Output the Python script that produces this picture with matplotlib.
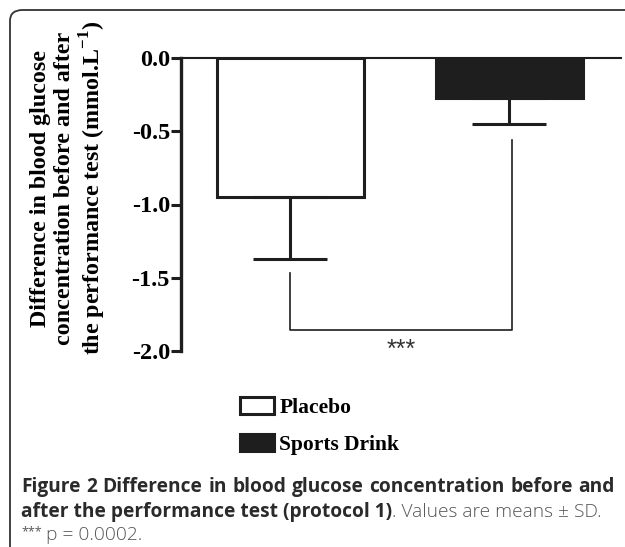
import matplotlib.pyplot as plt
from matplotlib.patches import FancyBboxPatch

# data
groups = ["Placebo", "Sports Drink"]
means = [-0.95, -0.27]
sds = [0.42, 0.18]
bar_colors = ["white", "#1e1e1e"]
yticks = [0.0, -0.5, -1.0, -1.5, -2.0]
sig_left = [0.0, -1.47]   # x, top of left bracket leg
sig_right = [1.01, -0.56]
sig_y = -1.86
sig_text = "***"

plt.rcParams["mathtext.fontset"] = "custom"
plt.rcParams["mathtext.bf"] = "Liberation Serif:bold"
plt.rcParams["mathtext.rm"] = "Liberation Serif"

W, H = 625, 547
fig = plt.figure(figsize=(W / 100, H / 100), dpi=100)

# rounded frame around the figure panel
frame = FancyBboxPatch((10 / W, -0.2), 1.2, 1.2 - 10 / H,
                       boxstyle="round,pad=0,rounding_size=0.02",
                       transform=fig.transFigure, fill=False,
                       edgecolor="#333333", linewidth=1.3)
fig.patches.append(frame)

ax = fig.add_axes([181 / W, 1 - 351 / H, (621 - 181) / W, (351 - 58) / H])
serif = "Liberation Serif"

x = list(range(len(groups)))
bars = ax.bar(x, means, width=0.67, color=bar_colors, edgecolor="#1e1e1e",
              linewidth=2.2, label=groups, zorder=2)
ax.errorbar(x, means, yerr=[sds, [0, 0]], fmt="none", ecolor="#1e1e1e",
            elinewidth=2.2, capsize=26.5, capthick=2.2, zorder=3)

# significance bracket
ax.plot([sig_left[0], sig_left[0], sig_right[0], sig_right[0]],
        [sig_left[1], sig_y, sig_y, sig_right[1]],
        color="#1e1e1e", linewidth=1.2, clip_on=False)
ax.text((sig_left[0] + sig_right[0]) / 2, sig_y - 0.13, sig_text,
        ha="center", va="center", fontsize=18, color="#333333",
        fontfamily="Liberation Sans")

ax.set_xlim(-0.5, 1.51)
ax.set_ylim(-2.0, 0.0)
ax.set_yticks(yticks)
ax.set_yticklabels([f"{v:.1f}" for v in yticks], fontfamily=serif,
                   fontweight="bold", fontsize=17.5)
ax.tick_params(axis="y", length=7, width=2.2, pad=1, color="#1e1e1e")
ax.set_xticks([])
for s in ["right", "bottom"]:
    ax.spines[s].set_visible(False)
ax.spines["left"].set_linewidth(2.4)
ax.spines["top"].set_linewidth(1.5)
ax.spines["left"].set_color("#1e1e1e")
ax.spines["top"].set_color("#1e1e1e")

ax.set_ylabel("Difference in blood glucose\nconcentration before and after\n"
              "the performance test (mmol.L$^{\\mathbf{-1}}$)",
              fontfamily=serif, fontweight="bold", fontsize=17.3,
              linespacing=1.15)
ax.yaxis.set_label_coords(-0.165, 0.556)

leg = fig.legend(handles=bars, labels=groups, loc="upper left",
                 bbox_to_anchor=(231 / W, 1 - 388 / H), frameon=False,
                 prop={"family": serif, "weight": "bold", "size": 15.5},
                 handlelength=1.6, handleheight=0.85, handletextpad=0.25,
                 labelspacing=0.75, borderaxespad=0)

# caption, bold part followed by plain part
cap_font = "Open Sans"
fs = 13.8
bold_col = "#2a2a2a"
light_col = "#555555"
fig.canvas.draw()
renderer = fig.canvas.get_renderer()

# first line justified between x=21 and x=615
words = "Figure 2 Difference in blood glucose concentration before and".split()
texts = [fig.text(0, 1 - 487 / H, w, fontfamily=cap_font, fontweight="bold",
                  fontsize=fs, color=bold_col, va="center") for w in words]
widths = [t.get_window_extent(renderer).width for t in texts]
gap = (615 - 21 - sum(widths)) / (len(words) - 1)
xpos = 21
for t, w in zip(texts, widths):
    t.set_x(xpos / W)
    xpos += w + gap

t2 = fig.text(21 / W, 1 - 512 / H, "after the performance test (protocol 1)",
              fontfamily=cap_font, fontweight="bold", fontsize=fs, color=bold_col, va="center")
bb = t2.get_window_extent(renderer)
fig.text(bb.x1 / W, 1 - 512 / H, ". Values are means \u00b1 SD.",
         fontfamily=cap_font, fontweight="light", fontsize=fs, color=light_col, va="center")
fig.text(21 / W, 1 - 532 / H, "***", fontfamily=cap_font, fontsize=9,
         color=light_col, va="center")
fig.text(46 / W, 1 - 535 / H, "p = 0.0002.", fontfamily=cap_font, fontweight="light",
         fontsize=fs, color=light_col, va="center")

fig.savefig("out.png", dpi=100)
